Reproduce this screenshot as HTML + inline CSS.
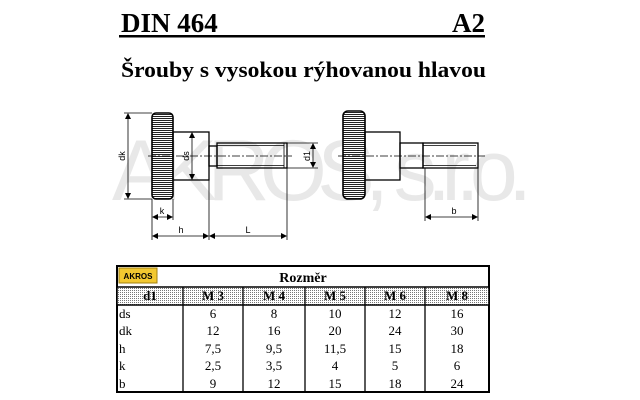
<!DOCTYPE html>
<html><head><meta charset="utf-8"><style>
html,body{margin:0;padding:0;background:#fff;width:640px;height:400px;overflow:hidden}
svg{display:block}
</style></head><body>
<svg width="640" height="400" viewBox="0 0 640 400" xmlns="http://www.w3.org/2000/svg">
<defs>
<pattern id="dots" width="2" height="2" patternUnits="userSpaceOnUse"><rect width="2" height="2" fill="#fff"/><rect width="1" height="1" fill="#777"/></pattern>
<pattern id="knurl" width="4" height="2" patternUnits="userSpaceOnUse"><rect width="4" height="2" fill="#fff"/><rect width="4" height="1" fill="#222"/></pattern>
<marker id="a" markerWidth="6" markerHeight="6" refX="5" refY="3" orient="auto-start-reverse" markerUnits="userSpaceOnUse"><path d="M0,0 L6,3 L0,6z" fill="#000"/></marker>
</defs>
<g font-family="Liberation Serif, serif" font-weight="bold">
<text x="121" y="32" font-size="27">DIN 464</text>
<text x="485" y="32" font-size="27" text-anchor="end">A2</text>
<text x="121" y="77" font-size="22" textLength="365" lengthAdjust="spacingAndGlyphs">Šrouby s vysokou rýhovanou hlavou</text>
</g>
<rect x="119" y="35" width="366" height="2.5" fill="#000"/>
<text x="112" y="200" font-family="Liberation Sans, sans-serif" font-size="86" fill="#e8e8e8" textLength="420">AKROS, s.r.o.</text>
<g stroke="#000" fill="none" stroke-width="1.3">
<rect x="152" y="113" width="21" height="86" rx="4" fill="url(#knurl)" stroke-width="1.6"/>
<rect x="173" y="132" width="36" height="48"/>
<rect x="209" y="146" width="8" height="20"/>
<rect x="217" y="143" width="70" height="25"/>
<line x1="217" y1="145.5" x2="284" y2="145.5" stroke-width="0.8"/>
<line x1="217" y1="165.5" x2="284" y2="165.5" stroke-width="0.8"/>
<line x1="284" y1="143" x2="284" y2="168" stroke-width="0.8"/>
<rect x="343" y="111" width="22" height="88" rx="5" fill="url(#knurl)" stroke-width="1.6"/>
<rect x="365" y="132" width="35" height="48"/>
<rect x="400" y="143" width="23" height="25"/>
<rect x="423" y="143" width="55" height="25"/>
<line x1="423" y1="145.5" x2="476" y2="145.5" stroke-width="0.8"/>
<line x1="423" y1="165.5" x2="476" y2="165.5" stroke-width="0.8"/>
</g>
<g stroke="#000" stroke-width="0.8" fill="none">
<line x1="148" y1="156" x2="292" y2="156" stroke-dasharray="8,2,2,2"/>
<line x1="338" y1="156" x2="485" y2="156" stroke-dasharray="8,2,2,2"/>
<line x1="124" y1="113" x2="152" y2="113"/>
<line x1="124" y1="199" x2="152" y2="199"/>
<line x1="287" y1="143" x2="318" y2="143"/>
<line x1="287" y1="168" x2="318" y2="168"/>
<line x1="152" y1="199" x2="152" y2="240"/>
<line x1="173" y1="199" x2="173" y2="220"/>
<line x1="209" y1="180" x2="209" y2="240"/>
<line x1="287" y1="168" x2="287" y2="240"/>
<line x1="425" y1="168" x2="425" y2="221"/>
<line x1="478" y1="168" x2="478" y2="221"/>
<line x1="128" y1="114" x2="128" y2="198" marker-start="url(#a)" marker-end="url(#a)"/>
<line x1="192" y1="133" x2="192" y2="179" marker-start="url(#a)" marker-end="url(#a)"/>
<line x1="313" y1="144" x2="313" y2="167" marker-start="url(#a)" marker-end="url(#a)"/>
<line x1="153" y1="217" x2="172" y2="217" marker-start="url(#a)" marker-end="url(#a)"/>
<line x1="153" y1="236" x2="208" y2="236" marker-start="url(#a)" marker-end="url(#a)"/>
<line x1="210" y1="236" x2="286" y2="236" marker-start="url(#a)" marker-end="url(#a)"/>
<line x1="426" y1="217" x2="477" y2="217" marker-start="url(#a)" marker-end="url(#a)"/>
</g>
<g font-family="Liberation Sans, sans-serif" font-size="9" fill="#000">
<text x="162" y="214" text-anchor="middle">k</text>
<text x="181" y="233" text-anchor="middle">h</text>
<text x="248" y="233" text-anchor="middle">L</text>
<text x="454" y="214" text-anchor="middle">b</text>
<text transform="translate(125,156) rotate(-90)" text-anchor="middle">dk</text>
<text transform="translate(189,156) rotate(-90)" text-anchor="middle">ds</text>
<text transform="translate(310,156) rotate(-90)" text-anchor="middle">d1</text>
</g>
<rect x="117" y="266" width="372" height="126" fill="#fff" stroke="#000" stroke-width="2"/>
<rect x="117" y="287" width="372" height="18" fill="url(#dots)" stroke="#000" stroke-width="1.5"/>
<rect x="119" y="268" width="38" height="15" fill="#f2c830" stroke="#a08010" stroke-width="1"/>
<text x="138" y="279" font-family="Liberation Sans, sans-serif" font-size="8" font-weight="bold" text-anchor="middle">AKROS</text>
<g stroke="#000" stroke-width="1.3">
<line x1="183" y1="287" x2="183" y2="392"/>
<line x1="243" y1="287" x2="243" y2="392"/>
<line x1="305" y1="287" x2="305" y2="392"/>
<line x1="365" y1="287" x2="365" y2="392"/>
<line x1="425" y1="287" x2="425" y2="392"/>
</g>
<g font-family="Liberation Serif, serif" font-size="13" fill="#000">
<text x="303" y="282" text-anchor="middle" font-weight="bold" font-size="14">Rozměr</text>
<g font-weight="bold" text-anchor="middle" font-size="13">
<text x="150" y="300">d1</text><text x="213" y="300">M 3</text><text x="274" y="300">M 4</text><text x="335" y="300">M 5</text><text x="395" y="300">M 6</text><text x="457" y="300">M 8</text>
</g>
<g>
<text x="119" y="318">ds</text><text x="119" y="335">dk</text><text x="119" y="353">h</text><text x="119" y="370">k</text><text x="119" y="388">b</text>
</g>
<g text-anchor="middle">
<text x="213" y="318">6</text><text x="274" y="318">8</text><text x="335" y="318">10</text><text x="395" y="318">12</text><text x="457" y="318">16</text>
<text x="213" y="335">12</text><text x="274" y="335">16</text><text x="335" y="335">20</text><text x="395" y="335">24</text><text x="457" y="335">30</text>
<text x="213" y="353">7,5</text><text x="274" y="353">9,5</text><text x="335" y="353">11,5</text><text x="395" y="353">15</text><text x="457" y="353">18</text>
<text x="213" y="370">2,5</text><text x="274" y="370">3,5</text><text x="335" y="370">4</text><text x="395" y="370">5</text><text x="457" y="370">6</text>
<text x="213" y="388">9</text><text x="274" y="388">12</text><text x="335" y="388">15</text><text x="395" y="388">18</text><text x="457" y="388">24</text>
</g>
</g>
</svg>
</body></html>
